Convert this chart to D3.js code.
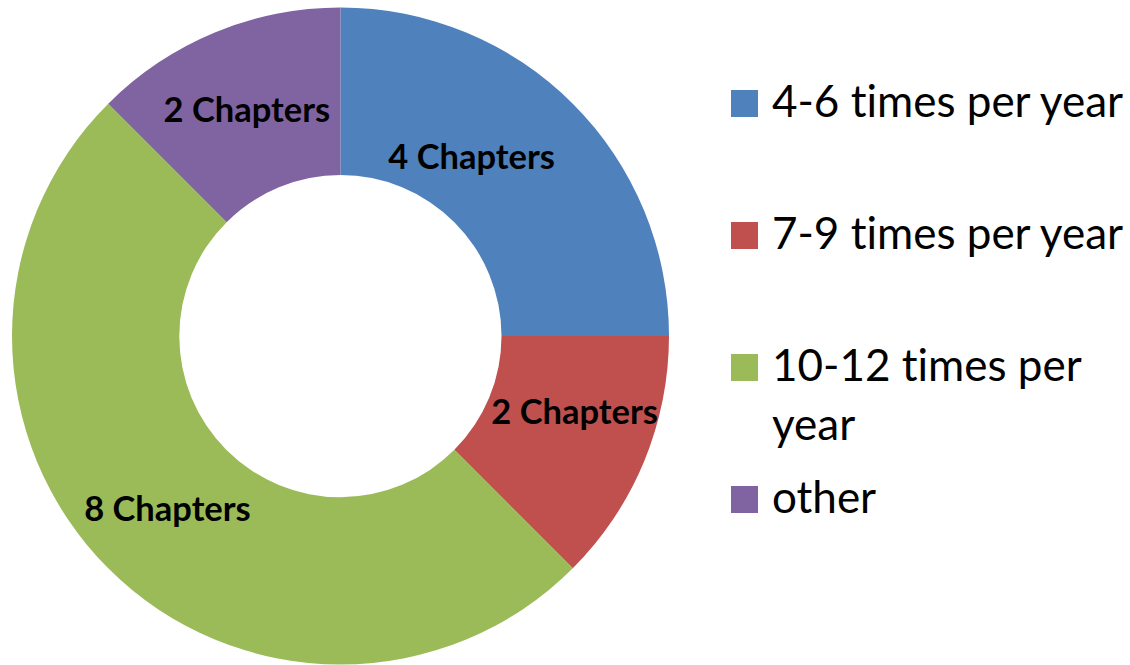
<!DOCTYPE html>
<html><head><meta charset="utf-8">
<script src="https://cdn.jsdelivr.net/npm/d3@7"></script>
<style>body{margin:0;background:#fff}svg{display:block}text{font-variant-ligatures:none;font-feature-settings:"liga" 0,"dlig" 0}</style>
</head><body>
<svg id="c" width="1130" height="665"></svg>
<script>
const categories = ["4-6 times per year", "7-9 times per year", "10-12 times per year", "other"];
const values = [4, 2, 8, 2];
const labels = ["4 Chapters", "2 Chapters", "8 Chapters", "2 Chapters"];
const colors = ["#4F81BD", "#C0504D", "#9BBB59", "#8064A2"];
const legendLines = [["4-6 times per year"], ["7-9 times per year"], ["10-12 times per", "year"], ["other"]];
// label nudges (px) from arc centroid
const labelNudge = [[-42, -7], [8, -19], [0, -1], [0, -1]];

const svg = d3.select("#c");
const cx = 340.5, cy = 336, R = 328.5, r0 = 161;
const g = svg.append("g").attr("transform", `translate(${cx},${cy})`);
const pie = d3.pie().sort(null).value(d => d);
const arc = d3.arc().innerRadius(r0).outerRadius(R);
const arcs = pie(values);
g.selectAll("path").data(arcs).enter().append("path")
  .attr("d", arc).attr("fill", (d, i) => colors[i]);
const font = "Lato, 'Open Sans', sans-serif";
g.selectAll("text.lbl").data(arcs).enter().append("text")
  .attr("class", "lbl")
  .attr("x", (d, i) => arc.centroid(d)[0] + labelNudge[i][0])
  .attr("y", (d, i) => arc.centroid(d)[1] + labelNudge[i][1] + 13)
  .attr("text-anchor", "middle")
  .attr("font-family", font).attr("font-weight", "bold").attr("font-size", 34.5)
  .attr("fill", "#000")
  .text((d, i) => labels[i]);

const leg = svg.append("g");
const ly = d3.scalePoint().domain(categories).range([90, 486]);
categories.forEach((c, i) => {
  const y0 = ly(c);
  leg.append("rect").attr("x", 731).attr("y", y0).attr("width", 27).attr("height", 27).attr("fill", colors[i]);
  const t = leg.append("text").attr("font-family", font).attr("font-size", 44).attr("fill", "#000");
  legendLines[i].forEach((line, j) => {
    t.append("tspan").attr("x", 772).attr("y", y0 + 27 + j * 59).text(line);
  });
});
</script>
</body></html>
